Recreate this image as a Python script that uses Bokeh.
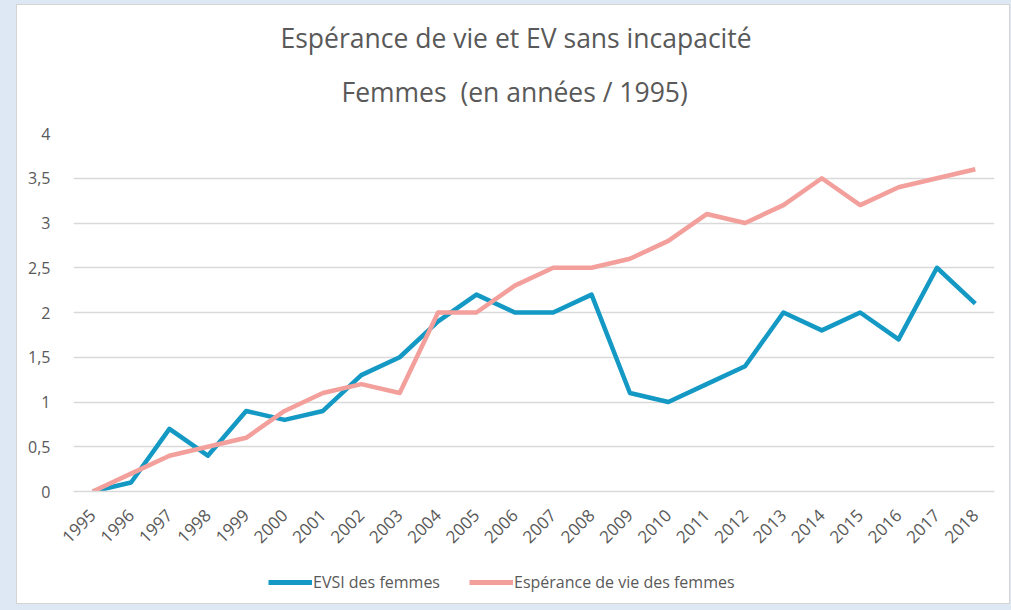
from math import pi
from bokeh.plotting import figure
from bokeh.layouts import column
from bokeh.models import Title, Legend, LegendItem, FixedTicker, ColumnDataSource
from bokeh.embed import file_html
from bokeh.resources import INLINE

years = [1995, 1996, 1997, 1998, 1999, 2000, 2001, 2002, 2003, 2004, 2005, 2006,
         2007, 2008, 2009, 2010, 2011, 2012, 2013, 2014, 2015, 2016, 2017, 2018]
evsi_femmes = [0, 0.1, 0.7, 0.4, 0.9, 0.8, 0.9, 1.3, 1.5, 1.9, 2.2, 2.0,
               2.0, 2.2, 1.1, 1.0, 1.2, 1.4, 2.0, 1.8, 2.0, 1.7, 2.5, 2.1]
ev_femmes = [0, 0.2, 0.4, 0.5, 0.6, 0.9, 1.1, 1.2, 1.1, 2.0, 2.0, 2.3,
             2.5, 2.5, 2.6, 2.8, 3.1, 3.0, 3.2, 3.5, 3.2, 3.4, 3.5, 3.6]
y_ticks = [0, 0.5, 1, 1.5, 2, 2.5, 3, 3.5, 4]
y_tick_labels = ["0", "0,5", "1", "1,5", "2", "2,5", "3", "3,5", "4"]
title_1 = "Espérance de vie et EV sans incapacité"
title_2 = "Femmes\u00a0 (en années / 1995)"
series_names = ["EVSI des femmes", "Espérance de vie des femmes"]

FONT = "Open Sans"
TXT = "#595959"
BLUE = "#1399c4"
PINK = "#f3a09c"

src = ColumnDataSource(dict(year=years, evsi=evsi_femmes, ev=ev_femmes))

p = figure(width=992, height=550, output_backend="svg", toolbar_location=None,
           x_range=(years[0] - 0.5, years[-1] + 0.5), y_range=(y_ticks[0], y_ticks[-1]),
           min_border_left=56, min_border_right=15, min_border_top=128, min_border_bottom=64)
p.outline_line_color = None
p.background_fill_color = "white"
p.border_fill_color = "white"

# titles
t2 = Title(text=title_2, align="left", text_font=FONT, text_font_size="26.5px",
           text_color=TXT, text_font_style="normal", standoff=48, offset=268)
t1 = Title(text=title_1, align="left", text_font=FONT, text_font_size="26.5px",
           text_color=TXT, text_font_style="normal", standoff=-16, offset=207)
p.add_layout(t2, "above")
p.add_layout(t1, "above")

# grid
p.xgrid.grid_line_color = None
p.ygrid.ticker = FixedTicker(ticks=y_ticks)
p.ygrid.grid_line_color = "#d9d9d9"
p.ygrid.grid_line_width = 1.5

# axes
p.yaxis.ticker = FixedTicker(ticks=y_ticks)
p.yaxis.major_label_overrides = {t: l for t, l in zip(y_ticks, y_tick_labels)}
p.yaxis.axis_line_color = None
p.yaxis.major_tick_line_color = None
p.yaxis.minor_tick_line_color = None
p.yaxis.major_label_standoff = 17
p.yaxis.major_label_text_font = FONT
p.yaxis.major_label_text_font_size = "16px"
p.yaxis.major_label_text_color = TXT

p.xaxis.ticker = FixedTicker(ticks=years)
p.xaxis.major_label_overrides = {y: str(y) for y in years}
p.xaxis.axis_line_color = "#d9d9d9"
p.xaxis.axis_line_width = 1.5
p.xaxis.major_tick_line_color = None
p.xaxis.minor_tick_line_color = None
p.xaxis.major_label_orientation = pi / 4
p.xaxis.major_label_standoff = 15
p.xaxis.major_label_text_font = FONT
p.xaxis.major_label_text_font_size = "17px"
p.xaxis.major_label_text_color = TXT

p.line("year", "evsi", source=src, line_color=BLUE, line_width=4.5, line_join="round")
p.line("year", "ev", source=src, line_color=PINK, line_width=4.5, line_join="round")

# legend strip (its series lie outside its visible range; only the legend shows)
lg = figure(width=992, height=48, output_backend="svg", toolbar_location=None,
            x_range=(years[0], years[-1]), y_range=(100, 101),
            x_axis_location=None, y_axis_location=None,
            min_border_left=0, min_border_right=0, min_border_top=0, min_border_bottom=0)
lg.outline_line_color = None
lg.xgrid.visible = False
lg.ygrid.visible = False
lg.border_fill_alpha = 0
lg.background_fill_alpha = 0
l1 = lg.line("year", "evsi", source=src, line_color=BLUE, line_width=5)
l2 = lg.line("year", "ev", source=src, line_color=PINK, line_width=5)
legend = Legend(items=[LegendItem(label=series_names[0], renderers=[l1]),
                       LegendItem(label=series_names[1], renderers=[l2])],
                orientation="horizontal", location=(195, 10),
                glyph_width=44, glyph_height=20, label_standoff=1, spacing=29,
                label_text_font=FONT, label_text_font_size="16px", label_text_color=TXT,
                border_line_color=None, background_fill_alpha=0, margin=0, padding=0)
lg.add_layout(legend)

layout = column(p, lg, spacing=0,
                styles={"background-color": "white", "box-shadow": "0 0 0 1px #d4d4d4"})
html = file_html(layout, INLINE)
html = html.replace("</head>", "<style>html,body{background:#dde8f4 !important;} body{padding:5px 0 0 17px !important;}</style></head>", 1)
open("out.html", "w").write(html)
